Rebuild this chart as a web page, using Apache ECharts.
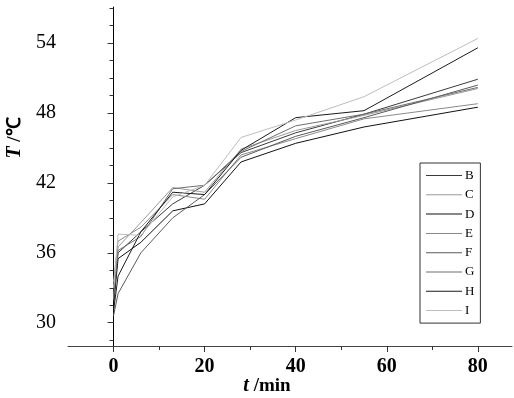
<!DOCTYPE html>
<html>
<head>
<meta charset="utf-8">
<script src="https://cdn.jsdelivr.net/npm/echarts@6/dist/echarts.min.js"></script>
<style>
  html, body { margin: 0; padding: 0; background: #fff; }
  #chart { width: 514px; height: 398px; }
</style>
</head>
<body>
<div id="chart"></div>
<script>
// 时间点 (min)
const times = [0, 1, 6, 13, 20, 28, 40, 55, 80];
// 各组温度 (℃)
const seriesNames = ["B", "C", "D", "E", "F", "G", "H", "I"];
const B = [31.8, 36.0, 37.8, 40.2, 41.8, 44.6, 46.3, 47.9, 50.9];
const C = [32.2, 36.5, 38.6, 41.6, 41.2, 44.9, 46.5, 47.8, 50.1];
const D = [31.5, 35.5, 36.9, 39.6, 40.2, 43.8, 45.4, 46.8, 48.5];
const E = [33.5, 37.0, 38.2, 41.0, 40.6, 44.4, 45.8, 47.5, 48.8];
const F = [30.6, 32.5, 36.0, 39.0, 41.0, 44.2, 46.0, 47.6, 50.4];
const G = [32.0, 36.2, 37.4, 41.5, 41.8, 44.7, 46.9, 47.9, 50.2];
const H = [31.0, 34.0, 37.8, 41.2, 41.0, 44.8, 47.6, 48.2, 53.6];
const I = [33.0, 37.6, 37.5, 40.8, 41.8, 45.9, 47.4, 49.4, 54.4];
const seriesData = [B, C, D, E, F, G, H, I];
const lineColors = ["#3a3a3a", "#999999", "#111111", "#8a8a8a", "#5a5a5a", "#6e6e6e", "#1a1a1a", "#bdbdbd"];

// 刻度
const xMajorTicks = [0, 20, 40, 60, 80];
const xMinorTicks = [10, 30, 50, 70];
const yMajorTicks = [30, 36, 42, 48, 54];
const yMinorTicks = [28.5, 31.5, 33, 34.5, 37.5, 39, 40.5, 43.5, 45, 46.5, 49.5, 51, 52.5, 55.5, 57];

const serif = "Liberation Serif";

let myChart = echarts.init(document.getElementById("chart"));

const seriesArr = seriesData.map((vals, index) => {
  return {
    name: seriesNames[index],
    type: "line",
    symbol: "none",
    xAxisIndex: 0,
    yAxisIndex: 0,
    lineStyle: { width: 1, color: lineColors[index] },
    itemStyle: { color: lineColors[index] },
    data: vals.map((v, i) => [times[i], v]),
  };
});

const baseX = { type: "value", position: "bottom", min: -10, max: 87.5, splitLine: { show: false } };
const baseY = { type: "value", position: "left", min: 28, max: 57.1, splitLine: { show: false } };

myChart.setOption({
  animation: false,
  grid: { left: 68, right: 2, top: 7, bottom: 52 },
  xAxis: [
    Object.assign({}, baseX, {
      axisLine: { lineStyle: { color: "#444", width: 1 } },
      axisTick: { customValues: xMajorTicks, length: 6, lineStyle: { color: "#333" } },
      axisLabel: {
        customValues: xMajorTicks,
        margin: 11,
        color: "#000",
        fontFamily: serif,
        fontWeight: "bold",
        fontSize: 20,
      },
    }),
    Object.assign({}, baseX, {
      axisLine: { show: false },
      axisTick: { customValues: xMinorTicks, length: 4, lineStyle: { color: "#333" } },
      axisLabel: { show: false },
    }),
  ],
  yAxis: [
    Object.assign({}, baseY, {
      axisLine: { show: true, lineStyle: { color: "#000", width: 1 } },
      axisTick: { customValues: yMajorTicks, length: 6, lineStyle: { color: "#333" } },
      axisLabel: {
        customValues: yMajorTicks,
        margin: 12,
        color: "#000",
        fontFamily: serif,
        fontSize: 20,
      },
    }),
    Object.assign({}, baseY, {
      axisLine: { show: false },
      axisTick: { show: true, customValues: yMinorTicks, length: 4, lineStyle: { color: "#333" } },
      axisLabel: { show: false },
    }),
  ],
  legend: {
    orient: "vertical",
    left: 420,
    top: 163,
    data: seriesNames,
    icon: "path://M0,0 L36,0 L36,1 L0,1 Z",
    itemWidth: 36,
    itemHeight: 14,
    itemGap: 6.3,
    padding: [6, 6, 6, 6],
    borderColor: "#333",
    borderWidth: 1,
    borderRadius: 0,
    textStyle: { fontFamily: serif, fontSize: 13, color: "#000", padding: [0, 0, 0, -2] },
  },
  graphic: [
    {
      type: "text",
      x: 15,
      y: 138,
      rotation: Math.PI / 2,
      style: {
        text: "{i|T} /℃",
        rich: { i: { fontStyle: "italic", fontWeight: "bold", fontFamily: serif, fontSize: 20 } },
        font: "bold 19px " + serif,
        fill: "#000",
        align: "center",
        verticalAlign: "middle",
      },
    },
    {
      type: "text",
      x: 267,
      y: 386,
      style: {
        text: "{i|t} /min",
        rich: { i: { fontStyle: "italic", fontWeight: "bold", fontFamily: serif, fontSize: 20 } },
        font: "bold 19px " + serif,
        fill: "#000",
        align: "center",
        verticalAlign: "middle",
      },
    },
  ],
  series: seriesArr,
});

window.onresize = myChart.resize;
</script>
</body>
</html>
